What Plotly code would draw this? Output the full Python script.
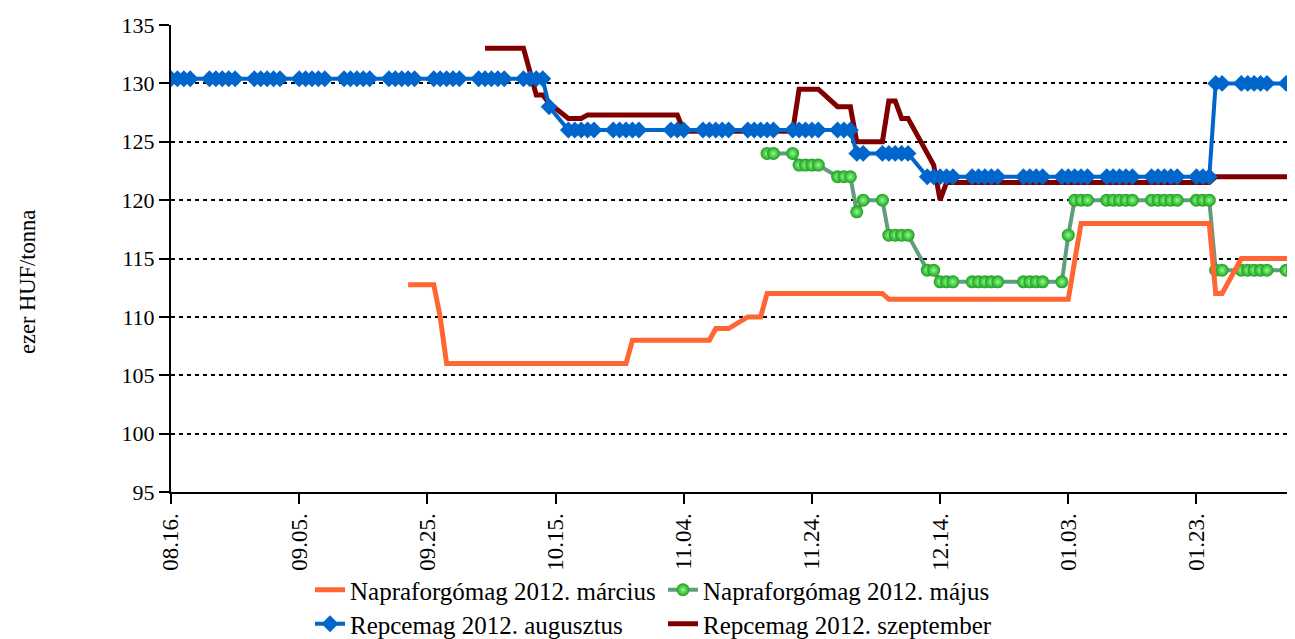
import pandas as pd
import plotly.graph_objects as go

# trading days (Budapest commodity exchange), holidays excluded
HOLIDAYS = ["2011-10-31", "2011-11-01", "2011-12-26"]
DATES = [d for d in pd.bdate_range("2011-08-16", "2012-02-08") if d.strftime("%Y-%m-%d") not in HOLIDAYS]

N = None
# Napraforgómag 2012. március (orange)
NAP_MAR = [N]*27 + [112.75, 112.75, 112.75, 110,
           106, 106, 106, 106, 106, 106, 106, 106, 106, 106, 106, 106, 106, 106, 106, 106, 106, 106, 106, 106, 106,
           108, 108, 108, 108, 108, 108, 108,
           109, 109, 109,
           110, 110, 110,
           112, 112, 112, 112, 112, 112, 112, 112, 112, 112, 112, 112, 112,
           111.5, 111.5, 111.5, 111.5, 111.5, 111.5, 111.5, 111.5, 111.5, 111.5,
           111.5, 111.5, 111.5, 111.5, 111.5, 111.5, 111.5, 111.5, 111.5, 111.5,
           114.8,
           118, 118, 118, 118, 118, 118, 118, 118, 118, 118, 118, 118, 118, 118, 118,
           112, 112,
           115, 115, 115, 115, 115, 115, 115, 115]

# Napraforgómag 2012. május (green)
NAP_MAJ = [N]*65 + [124, 124, 124,
           123, 123, 123, 123,
           122, 122, 122,
           119, 120, 120,
           117, 117, 117, 117,
           114, 114,
           113, 113, 113,
           113, 113, 113, 113, 113,
           113, 113, 113, 113,
           113, 117,
           120, 120, 120, 120, 120, 120, 120, 120, 120, 120, 120, 120, 120, 120, 120, 120,
           114, 114, 114, 114, 114, 114, 114, 114, 114, 114]

# Repcemag 2012. augusztus (blue)
REP_AUG = [130.4, 130.4, 130.4, 130.4, 130.4, 130.4, 130.4, 130.4, 130.4, 130.4,
           130.4, 130.4, 130.4, 130.4, 130.4, 130.4, 130.4, 130.4, 130.4, 130.4,
           130.4, 130.4, 130.4, 130.4, 130.4, 130.4, 130.4, 130.4, 130.4, 130.4,
           130.4, 130.4, 130.4, 130.4, 130.4, 130.4, 130.4, 130.4, 130.4, 130.4,
           130.4, 130.4, 130.4,
           128,
           126, 126, 126, 126, 126, 126, 126, 126, 126, 126,
           126, 126, 126, 126, 126, 126, 126, 126, 126, 126,
           126, 126, 126, 126, 126, 126, 126, 126, 126, 126, 126,
           124, 124, 124, 124, 124, 124, 124,
           122, 122, 122, 122, 122, 122, 122, 122, 122, 122,
           122, 122, 122, 122, 122, 122, 122, 122, 122, 122,
           122, 122, 122, 122, 122, 122, 122, 122, 122, 122, 122, 122,
           130, 130, 130, 130, 130, 130, 130, 130, 130, 130]

# Repcemag 2012. szeptember (dark red)
REP_SZEP = [N]*35 + [133, 133, 133, 133, 133,
            131, 129, 129, 128.3,
            127, 127, 127,
            127.3, 127.3, 127.3, 127.3, 127.3, 127.3, 127.3, 127.3, 127.3,
            125.9, 125.9, 125.9, 125.9, 125.9, 125.9, 125.9, 125.9, 125.9, 125.9, 125.9, 125.9,
            129.5, 129.5, 129.5, 129.5,
            128, 128, 128,
            125, 125, 125,
            128.5, 128.5,
            127, 127,
            124, 123, 120,
            121.5, 121.5, 121.5, 121.5, 121.5, 121.5, 121.5, 121.5, 121.5, 121.5,
            121.5, 121.5, 121.5, 121.5, 121.5, 121.5, 121.5, 121.5, 121.5, 121.5,
            121.5, 121.5, 121.5, 121.5, 121.5, 121.5, 121.5, 121.5, 121.5,
            122, 122, 122, 122, 122, 122, 122, 122, 122, 122]

NAMES = ["Napraforgómag 2012. március", "Napraforgómag 2012. május",
         "Repcemag 2012. augusztus", "Repcemag 2012. szeptember"]
Y_TICKS = [95, 100, 105, 110, 115, 120, 125, 130, 135]

FONT = "Liberation Serif"

fig = go.Figure()
fig.add_trace(go.Scatter(x=DATES, y=NAP_MAJ, name=NAMES[1], mode="lines+markers",
                         line=dict(color="#5E9E7C", width=4),
                         marker=dict(symbol="circle", size=13, color="#1E9E1E",
                                     gradient=dict(type="radial", color="#8CFF8C"),
                                     line=dict(width=0)),
                         legend="legend", legendrank=2))
fig.add_trace(go.Scatter(x=DATES, y=REP_SZEP, name=NAMES[3], mode="lines",
                         line=dict(color="#800000", width=5),
                         legend="legend2", legendrank=2))
fig.add_trace(go.Scatter(x=DATES, y=REP_AUG, name=NAMES[2], mode="lines+markers",
                         line=dict(color="#0066CC", width=4),
                         marker=dict(symbol="diamond", size=13, color="#0066CC", line=dict(width=0)),
                         legend="legend2", legendrank=1))
fig.add_trace(go.Scatter(x=DATES, y=NAP_MAR, name=NAMES[0], mode="lines",
                         line=dict(color="#FF6633", width=5),
                         legend="legend", legendrank=1))

# page body has an 8px margin: figure coords = screen coords - 8
OFF = 8
W, H = 1287, 680
L, T = 163, 17
PW, PH = 1124, 467
R = W - L - PW
B = H - T - PH

def px_x(screen_px):
    return (screen_px - OFF - L) / PW

def px_y(screen_px):
    return (T + PH - (screen_px - OFF)) / PH

legend_common = dict(orientation="h", xanchor="left", yanchor="middle",
                     font=dict(family=FONT, size=25, color="black"),
                     entrywidth=308, entrywidthmode="pixels",
                     bgcolor="rgba(0,0,0,0)", itemwidth=30, tracegroupgap=0)

fig.update_layout(
    width=W, height=H,
    margin=dict(l=L, r=R, t=T, b=B, autoexpand=False),
    paper_bgcolor="white", plot_bgcolor="white",
    font=dict(family=FONT, size=22, color="black"),
    showlegend=True,
    legend=dict(x=px_x(310), y=px_y(590), **legend_common),
    legend2=dict(x=px_x(310), y=px_y(624), **legend_common),
    xaxis=dict(
        type="date",
        range=["2011-08-16", "2012-02-07 09:00"],
        tick0="2011-08-16", dtick=20 * 86400000,
        tickformat="%m.%d.", tickangle=-90,
        ticks="outside", ticklen=10, tickwidth=2, tickcolor="black",
        showline=True, linecolor="black", linewidth=2,
        showgrid=False, zeroline=False, automargin=False,
        tickfont=dict(family=FONT, size=23, color="black"),
    ),
    yaxis=dict(
        range=[95, 135], tickvals=Y_TICKS,
        ticks="outside", ticklen=10, tickwidth=2, tickcolor="black",
        showline=True, linecolor="black", linewidth=2,
        showgrid=True, gridcolor="black", gridwidth=2, griddash="4px,4px",
        zeroline=False, automargin=False,
        tickfont=dict(family=FONT, size=22, color="black"),
    ),
    annotations=[dict(text="ezer HUF/tonna", xref="paper", yref="paper",
                      x=px_x(28), y=px_y(282), showarrow=False, textangle=-90,
                      xanchor="center", yanchor="middle",
                      font=dict(family=FONT, size=22.5, color="black"))],
)

fig.write_html("out.html")
